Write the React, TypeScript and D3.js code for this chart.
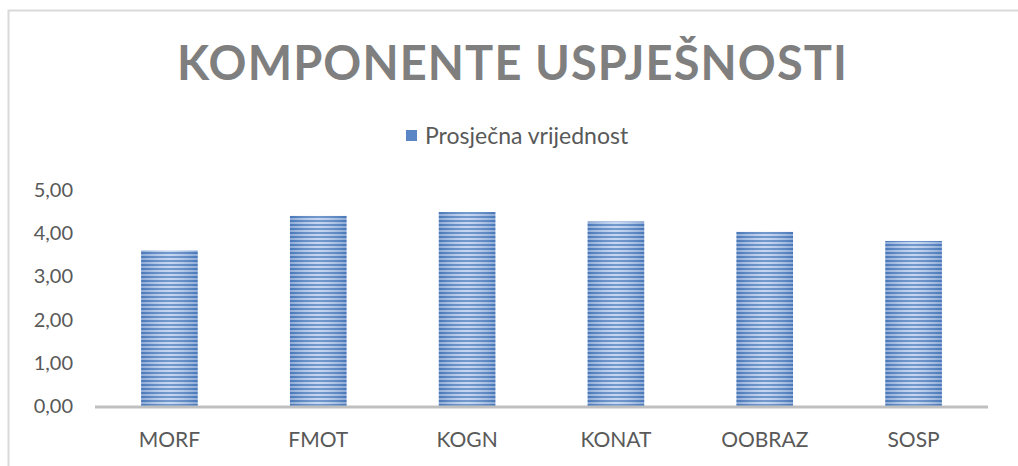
import React from 'react'
import * as d3 from 'd3'

// data
const categories = ['MORF', 'FMOT', 'KOGN', 'KONAT', 'OOBRAZ', 'SOSP']
const values = [3.6, 4.4, 4.49, 4.27, 4.03, 3.82]
const yTicks = [0, 1, 2, 3, 4, 5]
const seriesName = 'Prosječna vrijednost'
const title = 'KOMPONENTE USPJEŠNOSTI'

const width = 1018
const height = 466
const margin = { left: 95, right: 30, top: 190, bottom: 60 }
const font = "Lato, 'Open Sans', sans-serif"

export default function App() {
  const x = d3.scaleBand()
    .domain(categories)
    .range([margin.left, width - margin.right])
    .paddingInner(0.62)
    .paddingOuter(0.31)

  const y = d3.scaleLinear()
    .domain([0, 5])
    .range([height - margin.bottom, margin.top])

  const fmt = (d: number) => d.toFixed(2).replace('.', ',')

  return (
    <svg width={width} height={height} style={{ position: 'absolute', left: 0, top: 0 }}>
      <defs>
        <pattern id="stripes" patternUnits="userSpaceOnUse" width="8" height="4">
          <rect width="8" height="4" fill="#b9cdee" />
          <rect width="8" height="2" fill="#4f7fc0" />
        </pattern>
        <linearGradient id="shade" x1="0" x2="1" y1="0" y2="0">
          <stop offset="0" stopColor="#3e6aa8" stopOpacity="0.35" />
          <stop offset="0.5" stopColor="#ffffff" stopOpacity="0.2" />
          <stop offset="1" stopColor="#3e6aa8" stopOpacity="0.35" />
        </linearGradient>
      </defs>

      {/* chart frame */}
      <rect x={8.5} y={10.5} width={width + 20} height={height + 20} fill="#fff" stroke="#d9d9d9" strokeWidth={2} />

      <text x={512} y={80} textAnchor="middle" fill="#7f7f7f" fontFamily={font}
        fontWeight={700} fontSize={47} textLength={670} lengthAdjust="spacing">{title}</text>

      {/* legend */}
      <rect x={406} y={130} width={11} height={11} fill="#5b86c6" />
      <text x={425} y={144} fill="#595959" fontFamily={font} fontSize={23}>{seriesName}</text>

      {/* y axis labels */}
      {yTicks.map(t => (
        <text key={t} x={73} y={y(t) + 7} textAnchor="end" fill="#595959"
          fontFamily={font} fontSize={20}>{fmt(t)}</text>
      ))}

      {/* bars */}
      {categories.map((c, i) => (
        <g key={c}>
          <rect x={x(c)} y={y(values[i])} width={x.bandwidth()} height={y(0) - y(values[i])}
            fill="url(#stripes)" />
          <rect x={x(c)} y={y(values[i])} width={x.bandwidth()} height={y(0) - y(values[i])}
            fill="url(#shade)" />
        </g>
      ))}

      {/* baseline */}
      <line x1={margin.left} x2={width - margin.right} y1={y(0) + 1} y2={y(0) + 1}
        stroke="#bfbfbf" strokeWidth={3} />

      {/* category labels */}
      {categories.map(c => (
        <text key={c} x={x(c)! + x.bandwidth() / 2} y={447} textAnchor="middle"
          fill="#595959" fontFamily={font} fontSize={21}>{c}</text>
      ))}
    </svg>
  )
}
